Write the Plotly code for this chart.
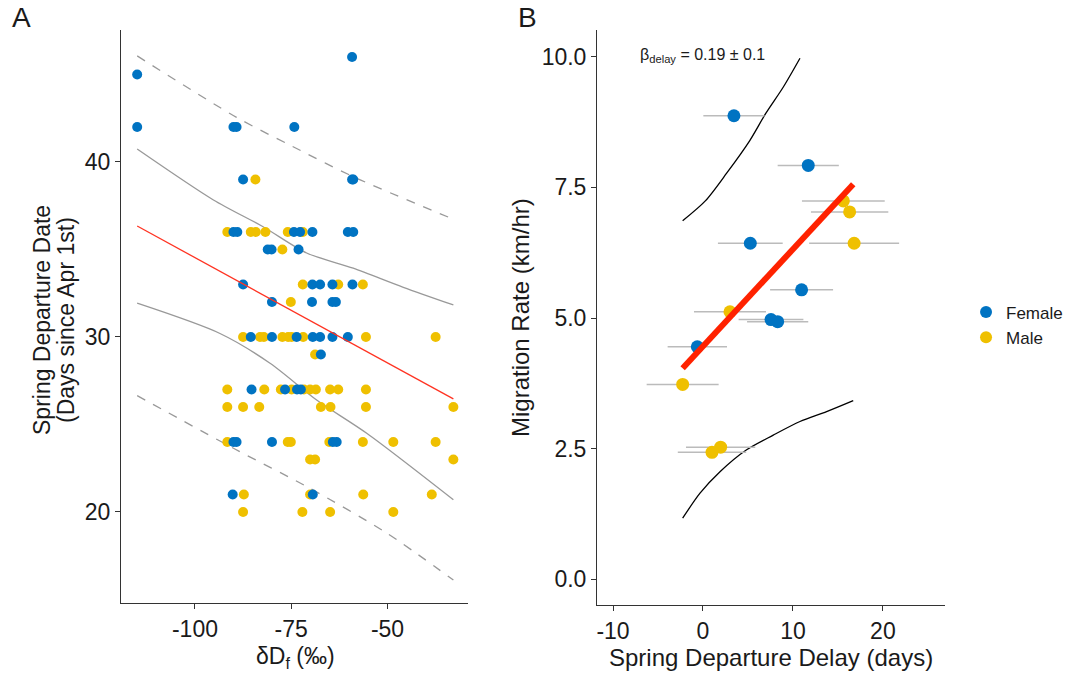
import plotly.graph_objects as go

# ---------------- Panel A data ----------------
a_female_x = [-115.0, -59.2,
              -115.0, -90.0, -89.2, -74.2,
              -87.5, -59.2, -58.9,
              -90.0, -89.0, -74.3, -72.7, -69.5, -60.3, -58.9,
              -81.1, -80.1, -73.1,
              -87.5, -69.5, -67.5, -64.3, -59.1,
              -80.0, -69.6, -64.3, -63.4,
              -85.5, -80.0, -73.6, -69.4, -67.5, -64.3, -60.3,
              -67.3,
              -85.3, -76.6, -73.5, -72.5,
              -90.0, -89.2, -80.0, -64.2, -63.2,
              -90.2, -69.4]
a_female_y = [45, 46,
              42, 42, 42, 42,
              39, 39, 39,
              36, 36, 36, 36, 36, 36, 36,
              35, 35, 35,
              33, 33, 33, 33, 33,
              32, 32, 32, 32,
              30, 30, 30, 30, 30, 30, 30,
              29,
              27, 27, 27, 27,
              24, 24, 24, 24, 24,
              21, 21]

a_male_x = [-84.3,
            -91.6, -85.5, -84.2, -81.7, -75.9, -72.0,
            -77.3,
            -72.0, -62.8, -56.4,
            -75.1,
            -87.5, -83.1, -82.1, -77.3, -75.8, -74.9, -71.9, -55.6, -37.5,
            -68.8,
            -91.6, -82.0, -77.7, -74.9, -71.7, -70.1, -68.6, -64.9, -62.8, -55.6,
            -91.6, -87.5, -83.3, -67.3, -64.8, -55.6, -32.9,
            -91.6, -75.9, -75.1, -65.1, -56.4, -48.5, -37.5,
            -70.1, -68.8, -32.9,
            -87.3, -70.1, -56.3, -38.5,
            -87.5, -72.1, -64.9, -48.5]
a_male_y = [39,
            36, 36, 36, 36, 36, 36,
            35,
            33, 33, 33,
            32,
            30, 30, 30, 30, 30, 30, 30, 30, 30,
            29,
            27, 27, 27, 27, 27, 27, 27, 27, 27, 27,
            26, 26, 26, 26, 26, 26, 26,
            24, 24, 24, 24, 24, 24, 24,
            23, 23, 23,
            21, 21, 21, 21,
            20, 20, 20, 20]

a_fit_x = [-115.0, -32.9]
a_fit_y = [36.34, 26.46]
a_ci_up_x = [-115.0, -95.2, -82.3, -71.0, -58.9, -45.9, -32.9]
a_ci_up_y = [40.74, 37.83, 36.30, 34.80, 33.93, 32.84, 31.83]
a_ci_lo_x = [-115.0, -93.5, -80.5, -68.4, -55.4, -32.9]
a_ci_lo_y = [31.93, 30.2, 28.5, 26.4, 24.5, 20.7]
a_pi_up_x = [-115.0, -89.2, -74.5, -58.9, -32.9]
a_pi_up_y = [46.06, 42.55, 40.87, 39.16, 36.73]
a_pi_lo_x = [-115.0, -90.0, -70.1, -50.1, -32.9]
a_pi_lo_y = [26.65, 23.64, 21.35, 18.78, 16.11]

a_xticks = [-100, -75, -50]
a_xticklabels = ["-100", "-75", "-50"]
a_yticks = [20, 30, 40]

# ---------------- Panel B data ----------------
b_female_x = [3.44, 11.7, 5.26, 10.96, 7.56, 8.3, -0.63]
b_female_y = [8.87, 7.92, 6.43, 5.54, 4.97, 4.93, 4.45]
b_female_err = [3.4, 3.4, 3.6, 3.5, 3.6, 3.4, 3.3]
b_male_x = [15.6, 16.3, 16.8, 3.0, -2.26, 1.96, 1.0]
b_male_y = [7.24, 7.03, 6.43, 5.12, 3.73, 2.53, 2.43]
b_male_err = [4.6, 4.3, 5.0, 4.0, 4.0, 3.85, 3.8]

b_fit_x = [-2.26, 16.7]
b_fit_y = [4.04, 7.56]
b_up_x = [-2.26, 0.26, 2.63, 5.22, 6.96, 8.93, 10.78]
b_up_y = [6.86, 7.24, 7.77, 8.40, 8.91, 9.42, 9.97]
b_lo_x = [-2.26, -0.33, 1.89, 4.85, 7.81, 10.78, 13.74, 16.7]
b_lo_y = [1.17, 1.65, 2.06, 2.48, 2.76, 3.02, 3.21, 3.42]

b_xticks = [-10, 0, 10, 20]
b_xticklabels = ["-10", "0", "10", "20"]
b_yticks = [0, 2.5, 5, 7.5, 10]
b_yticklabels = ["0.0", "2.5", "5.0", "7.5", "10.0"]

BLUE = "#0073C2"
YELLOW = "#EFC000"
FONT = "Liberation Sans, Arial, sans-serif"
TXT = "#1a1a1a"

fig = go.Figure()

# Panel A lines
for xs, ys, dash in [(a_pi_up_x, a_pi_up_y, "dash"), (a_pi_lo_x, a_pi_lo_y, "dash"),
                     (a_ci_up_x, a_ci_up_y, "solid"), (a_ci_lo_x, a_ci_lo_y, "solid")]:
    fig.add_trace(go.Scatter(x=xs, y=ys, mode="lines",
                             line=dict(color="#999999", width=1.3, dash=dash, shape="spline", smoothing=0.8),
                             showlegend=False, hoverinfo="skip", xaxis="x", yaxis="y"))

# Panel A points
fig.add_trace(go.Scatter(x=a_male_x, y=a_male_y, mode="markers", marker=dict(color=YELLOW, size=10),
                         name="Male", legendgroup="m", showlegend=False, xaxis="x", yaxis="y"))
fig.add_trace(go.Scatter(x=a_female_x, y=a_female_y, mode="markers", marker=dict(color=BLUE, size=10),
                         name="Female", legendgroup="f", showlegend=False, xaxis="x", yaxis="y"))
fig.add_trace(go.Scatter(x=a_fit_x, y=a_fit_y, mode="lines", line=dict(color="#FF3322", width=1.3),
                         showlegend=False, xaxis="x", yaxis="y"))

# Panel B lines
for xs, ys in [(b_up_x, b_up_y), (b_lo_x, b_lo_y)]:
    fig.add_trace(go.Scatter(x=xs, y=ys, mode="lines",
                             line=dict(color="black", width=1.3, shape="spline", smoothing=0.8),
                             showlegend=False, hoverinfo="skip", xaxis="x2", yaxis="y2"))

# Panel B points
fig.add_trace(go.Scatter(x=b_female_x, y=b_female_y, mode="markers", marker=dict(color=BLUE, size=13),
                         error_x=dict(type="data", array=b_female_err, color="#BBBBBB", thickness=1.5, width=0),
                         name="Female", legendgroup="f", showlegend=True, xaxis="x2", yaxis="y2"))
fig.add_trace(go.Scatter(x=b_male_x, y=b_male_y, mode="markers", marker=dict(color=YELLOW, size=13),
                         error_x=dict(type="data", array=b_male_err, color="#BBBBBB", thickness=1.5, width=0),
                         name="Male", legendgroup="m", showlegend=True, xaxis="x2", yaxis="y2"))
fig.add_trace(go.Scatter(x=b_fit_x, y=b_fit_y, mode="lines", line=dict(color="#FF2200", width=6),
                         showlegend=False, xaxis="x2", yaxis="y2"))

axis_common = dict(showline=True, linecolor="#333333", linewidth=1, ticks="outside", ticklen=5,
                   tickcolor="#333333", showgrid=False, zeroline=False,
                   tickfont=dict(family=FONT, size=23, color=TXT))


def ann(text, x, y, size, angle=0, xanchor="center"):
    return dict(text=text, x=x / 1083, y=1 - y / 675, xref="paper", yref="paper", showarrow=False,
                xanchor=xanchor, yanchor="middle", textangle=angle, font=dict(family=FONT, size=size, color=TXT))


fig.update_layout(
    width=1083, height=675,
    margin=dict(l=0, r=0, t=0, b=0),
    paper_bgcolor="white", plot_bgcolor="white",
    font=dict(family=FONT, color=TXT),
    xaxis=dict(domain=[121 / 1083, 468 / 1083], range=[-119.2, -29.1], tickvals=a_xticks, ticktext=a_xticklabels,
               anchor="y", **axis_common),
    yaxis=dict(domain=[1 - 603 / 675, 1 - 30 / 675], range=[14.8, 47.54], tickvals=a_yticks, anchor="x", **axis_common),
    xaxis2=dict(domain=[597 / 1083, 945 / 1083], range=[-11.78, 26.9], tickvals=b_xticks, ticktext=b_xticklabels,
                anchor="y2", **axis_common),
    yaxis2=dict(domain=[1 - 605 / 675, 1 - 30 / 675], range=[-0.49, 10.51], tickvals=b_yticks,
                ticktext=b_yticklabels, anchor="x2", **axis_common),
    legend=dict(x=0.892, y=1 - 325 / 675, xanchor="left", yanchor="middle",
                font=dict(family=FONT, size=17, color=TXT),
                bgcolor="rgba(0,0,0,0)", itemsizing="constant", tracegroupgap=0),
    annotations=[
        ann("A", 21, 18, 28),
        ann("B", 527, 18, 28),
        ann("Spring Departure Date", 42, 320, 23, angle=-90),
        ann("(Days since Apr 1st)", 66, 320, 23, angle=-90),
        ann("δD<sub>f</sub> (‰)", 295, 657, 23),
        ann("Spring Departure Delay (days)", 771, 657, 24),
        ann("Migration Rate (km/hr)", 521, 318, 24, angle=-90),
        ann("β<sub>delay</sub> = 0.19 ± 0.1", 638, 56, 16, xanchor="left"),
    ],
)

fig.write_html("out.html")
